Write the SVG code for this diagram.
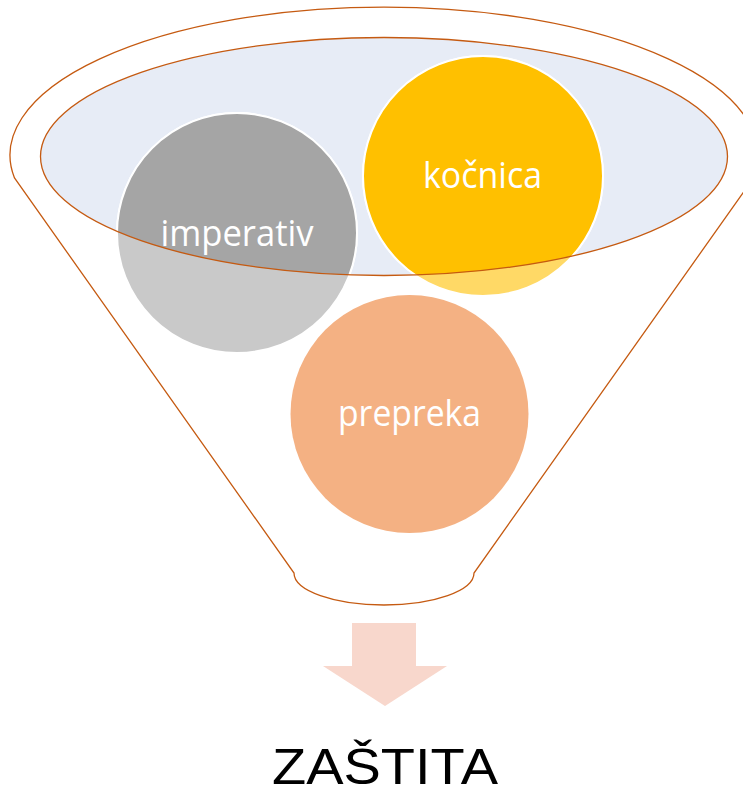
<svg xmlns="http://www.w3.org/2000/svg" width="743" height="795" viewBox="0 0 743 795">
<style>
.edge{fill:none;stroke:#C55A11;stroke-width:1.3}
.ring{stroke:#FFFFFF;stroke-width:2}
.lbl{font-family:"Open Sans","Noto Sans","Liberation Sans",sans-serif;font-size:36px;fill:#FFFFFF;text-anchor:middle}
.out{font-family:"Liberation Sans","Open Sans",sans-serif;font-size:50px;fill:#000000;text-anchor:middle}
</style>
<defs>
<clipPath id="mouth"><ellipse cx="384" cy="156.5" rx="343.5" ry="119"/></clipPath>
</defs>
<rect width="743" height="795" fill="#FFFFFF"/>
<g id="funnel">
<path class="edge" fill="#FFFFFF" d="M 14.5 178 A 374 148 0 1 1 753.5 178 L 474 573 A 90 32 0 0 1 294 573 Z"/>
<ellipse cx="384" cy="156.5" rx="343.5" ry="119" fill="#E7ECF6"/>
</g>
<g id="node-imperativ">
<circle cx="237" cy="233" r="120" fill="#C9C9C9" class="ring"/>
<circle cx="237" cy="233" r="120" fill="#A5A5A5" class="ring" clip-path="url(#mouth)"/>
</g>
<g id="node-kocnica">
<circle cx="483" cy="176" r="120" fill="#FFD966" class="ring"/>
<circle cx="483" cy="176" r="120" fill="#FFC000" class="ring" clip-path="url(#mouth)"/>
</g>
<g id="node-prepreka">
<circle cx="409.5" cy="414" r="119" fill="#F4B183"/>
</g>
<g id="mouth-edge">
<ellipse class="edge" cx="384" cy="156.5" rx="343.5" ry="119"/>
</g>
<g id="labels">
<text class="lbl" x="237" y="246" textLength="153" lengthAdjust="spacingAndGlyphs">imperativ</text>
<text class="lbl" x="482.5" y="188" textLength="119" lengthAdjust="spacingAndGlyphs">kočnica</text>
<text class="lbl" x="409.5" y="426" textLength="143" lengthAdjust="spacingAndGlyphs">prepreka</text>
</g>
<g id="connectors">
<path d="M 352 623 H 416 V 666 H 447 L 385 706 L 323 666 H 352 Z" fill="#F8D7CC"/>
</g>
<g id="node-zastita">
<text class="out" x="385" y="784" textLength="226" lengthAdjust="spacingAndGlyphs">ZAŠTITA</text>
</g>
</svg>
